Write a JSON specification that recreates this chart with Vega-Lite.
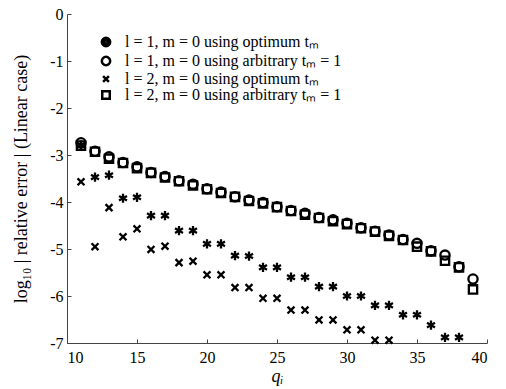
{
  "$schema": "https://vega.github.io/schema/vega-lite/v6.json",
  "width": 420,
  "height": 329,
  "autosize": "none",
  "padding": {"left": 67, "top": 14, "right": 19, "bottom": 46},
  "background": "white",
  "config": {
    "view": {"stroke": null},
    "font": "Liberation Serif",
    "axis": {
      "grid": false,
      "domainColor": "#444",
      "tickColor": "#444",
      "labelColor": "black",
      "titleColor": "black",
      "labelFont": "Liberation Serif",
      "titleFont": "Liberation Serif",
      "labelFontSize": 16,
      "titleFontSize": 18,
      "titleFontWeight": "normal"
    }
  },
  "data": {
    "values": [
      {"series": "s1", "q": 11, "v": -2.79}, {"series": "s1", "q": 12, "v": -3.47}, {"series": "s1", "q": 13, "v": -3.43},
      {"series": "s1", "q": 14, "v": -3.92}, {"series": "s1", "q": 15, "v": -3.90}, {"series": "s1", "q": 16, "v": -4.29},
      {"series": "s1", "q": 17, "v": -4.29}, {"series": "s1", "q": 18, "v": -4.61}, {"series": "s1", "q": 19, "v": -4.61},
      {"series": "s1", "q": 20, "v": -4.89}, {"series": "s1", "q": 21, "v": -4.89}, {"series": "s1", "q": 22, "v": -5.14},
      {"series": "s1", "q": 23, "v": -5.15}, {"series": "s1", "q": 24, "v": -5.39}, {"series": "s1", "q": 25, "v": -5.39},
      {"series": "s1", "q": 26, "v": -5.60}, {"series": "s1", "q": 27, "v": -5.60}, {"series": "s1", "q": 28, "v": -5.80},
      {"series": "s1", "q": 29, "v": -5.80}, {"series": "s1", "q": 30, "v": -6.00}, {"series": "s1", "q": 31, "v": -6.00},
      {"series": "s1", "q": 32, "v": -6.20}, {"series": "s1", "q": 33, "v": -6.20}, {"series": "s1", "q": 34, "v": -6.40},
      {"series": "s1", "q": 35, "v": -6.40}, {"series": "s1", "q": 36, "v": -6.62}, {"series": "s1", "q": 37, "v": -6.88},
      {"series": "s1", "q": 38, "v": -6.88},
      {"series": "s2", "q": 11, "v": -2.74}, {"series": "s2", "q": 12, "v": -2.92}, {"series": "s2", "q": 13, "v": -3.04},
      {"series": "s2", "q": 14, "v": -3.16}, {"series": "s2", "q": 15, "v": -3.25}, {"series": "s2", "q": 16, "v": -3.37},
      {"series": "s2", "q": 17, "v": -3.46}, {"series": "s2", "q": 18, "v": -3.55}, {"series": "s2", "q": 19, "v": -3.62},
      {"series": "s2", "q": 20, "v": -3.72}, {"series": "s2", "q": 21, "v": -3.79}, {"series": "s2", "q": 22, "v": -3.89},
      {"series": "s2", "q": 23, "v": -3.96}, {"series": "s2", "q": 24, "v": -4.01}, {"series": "s2", "q": 25, "v": -4.10},
      {"series": "s2", "q": 26, "v": -4.18}, {"series": "s2", "q": 27, "v": -4.24}, {"series": "s2", "q": 28, "v": -4.33},
      {"series": "s2", "q": 29, "v": -4.38}, {"series": "s2", "q": 30, "v": -4.45}, {"series": "s2", "q": 31, "v": -4.55},
      {"series": "s2", "q": 32, "v": -4.62}, {"series": "s2", "q": 33, "v": -4.70}, {"series": "s2", "q": 34, "v": -4.80},
      {"series": "s2", "q": 35, "v": -4.88}, {"series": "s2", "q": 36, "v": -5.04}, {"series": "s2", "q": 37, "v": -5.13},
      {"series": "s2", "q": 38, "v": -5.38}, {"series": "s2", "q": 39, "v": -5.64},
      {"series": "s3", "q": 11, "v": -3.57}, {"series": "s3", "q": 12, "v": -4.95}, {"series": "s3", "q": 13, "v": -4.12},
      {"series": "s3", "q": 14, "v": -4.74}, {"series": "s3", "q": 15, "v": -4.57}, {"series": "s3", "q": 16, "v": -5.01},
      {"series": "s3", "q": 17, "v": -4.94}, {"series": "s3", "q": 18, "v": -5.29}, {"series": "s3", "q": 19, "v": -5.26},
      {"series": "s3", "q": 20, "v": -5.55}, {"series": "s3", "q": 21, "v": -5.55}, {"series": "s3", "q": 22, "v": -5.82},
      {"series": "s3", "q": 23, "v": -5.82}, {"series": "s3", "q": 24, "v": -6.05}, {"series": "s3", "q": 25, "v": -6.05},
      {"series": "s3", "q": 26, "v": -6.30}, {"series": "s3", "q": 27, "v": -6.30}, {"series": "s3", "q": 28, "v": -6.51},
      {"series": "s3", "q": 29, "v": -6.51}, {"series": "s3", "q": 30, "v": -6.72}, {"series": "s3", "q": 31, "v": -6.72},
      {"series": "s3", "q": 32, "v": -6.94}, {"series": "s3", "q": 33, "v": -6.94},
      {"series": "s4", "q": 11, "v": -2.80}, {"series": "s4", "q": 12, "v": -2.93}, {"series": "s4", "q": 13, "v": -3.08},
      {"series": "s4", "q": 14, "v": -3.17}, {"series": "s4", "q": 15, "v": -3.28}, {"series": "s4", "q": 16, "v": -3.38},
      {"series": "s4", "q": 17, "v": -3.48}, {"series": "s4", "q": 18, "v": -3.56}, {"series": "s4", "q": 19, "v": -3.65},
      {"series": "s4", "q": 20, "v": -3.73}, {"series": "s4", "q": 21, "v": -3.81}, {"series": "s4", "q": 22, "v": -3.89},
      {"series": "s4", "q": 23, "v": -3.98}, {"series": "s4", "q": 24, "v": -4.03}, {"series": "s4", "q": 25, "v": -4.11},
      {"series": "s4", "q": 26, "v": -4.19}, {"series": "s4", "q": 27, "v": -4.27}, {"series": "s4", "q": 28, "v": -4.34},
      {"series": "s4", "q": 29, "v": -4.41}, {"series": "s4", "q": 30, "v": -4.47}, {"series": "s4", "q": 31, "v": -4.56},
      {"series": "s4", "q": 32, "v": -4.63}, {"series": "s4", "q": 33, "v": -4.72}, {"series": "s4", "q": 34, "v": -4.81},
      {"series": "s4", "q": 35, "v": -4.95}, {"series": "s4", "q": 36, "v": -5.05}, {"series": "s4", "q": 37, "v": -5.25},
      {"series": "s4", "q": 38, "v": -5.39}, {"series": "s4", "q": 39, "v": -5.86}
    ]
  },
  "encoding": {
    "x": {
      "field": "q", "type": "quantitative",
      "scale": {"domain": [10, 40], "nice": false, "zero": false},
      "axis": {"values": [10, 15, 20, 25, 30, 35, 40], "tickSize": -4, "labelPadding": 10, "title": "qᵢ", "titleFontStyle": "italic", "titlePadding": 2}
    },
    "y": {
      "field": "v", "type": "quantitative",
      "scale": {"domain": [-7, 0], "nice": false, "zero": false},
      "axis": {"values": [0, -1, -2, -3, -4, -5, -6, -7], "tickSize": -4, "labelPadding": 8, "labelExpr": "toString(datum.value)", "title": "log₁₀ | relative error |  (Linear case)", "titlePadding": 19}
    }
  },
  "layer": [
    {
      "mark": {"type": "point", "filled": false, "stroke": "black", "strokeWidth": 2.3, "opacity": 1, "size": 85},
      "encoding": {
        "shape": {
          "field": "series", "type": "nominal", "legend": null,
          "scale": {
            "domain": ["s1", "s2", "s3", "s4"],
            "range": ["M0,-1L0,1M-0.866,-0.5L0.866,0.5M-0.866,0.5L0.866,-0.5", "circle", "M-0.75,-0.75L0.75,0.75M-0.75,0.75L0.75,-0.75", "M-0.9,-0.9H0.9V0.9H-0.9Z"]
          }
        }
      }
    },
    {
      "transform": [{"filter": "datum.q > 1000"}],
      "mark": {"type": "point", "filled": false, "stroke": "black", "strokeWidth": 2.5, "opacity": 1, "size": 70},
      "encoding": {
        "shape": {
          "field": "series", "type": "nominal",
          "scale": {
            "domain": ["s1", "s2", "s3", "s4"],
            "range": ["M-1,0A1,1 0 1,0 1,0A1,1 0 1,0 -1,0M-0.5,0A0.5,0.5 0 1,0 0.5,0A0.5,0.5 0 1,0 -0.5,0M-0.2,0A0.2,0.2 0 1,0 0.2,0A0.2,0.2 0 1,0 -0.2,0", "circle", "M-0.7,-0.7L0.7,0.7M-0.7,0.7L0.7,-0.7", "M-0.9,-0.9H0.9V0.9H-0.9Z"]
          },
          "legend": {
            "title": null,
            "orient": "none",
            "legendX": 31,
            "legendY": 20,
            "labelFont": "Liberation Serif",
            "labelFontSize": 16,
            "labelColor": "black",
            "labelLimit": 0,
            "labelOffset": 11,
            "rowPadding": -1,
            "symbolStrokeColor": "black",
            "symbolStrokeWidth": 2.5,
            "symbolSize": 70,
            "symbolOpacity": 1,
            "labelExpr": "datum.value == 's1' ? 'l = 1, m = 0 using optimum tₘ' : datum.value == 's2' ? 'l = 1, m = 0 using arbitrary tₘ = 1' : datum.value == 's3' ? 'l = 2, m = 0 using optimum tₘ' : 'l = 2, m = 0 using arbitrary tₘ = 1'"
          }
        }
      }
    }
  ],
  "resolve": {"scale": {"shape": "independent"}, "legend": {"shape": "independent"}}
}
